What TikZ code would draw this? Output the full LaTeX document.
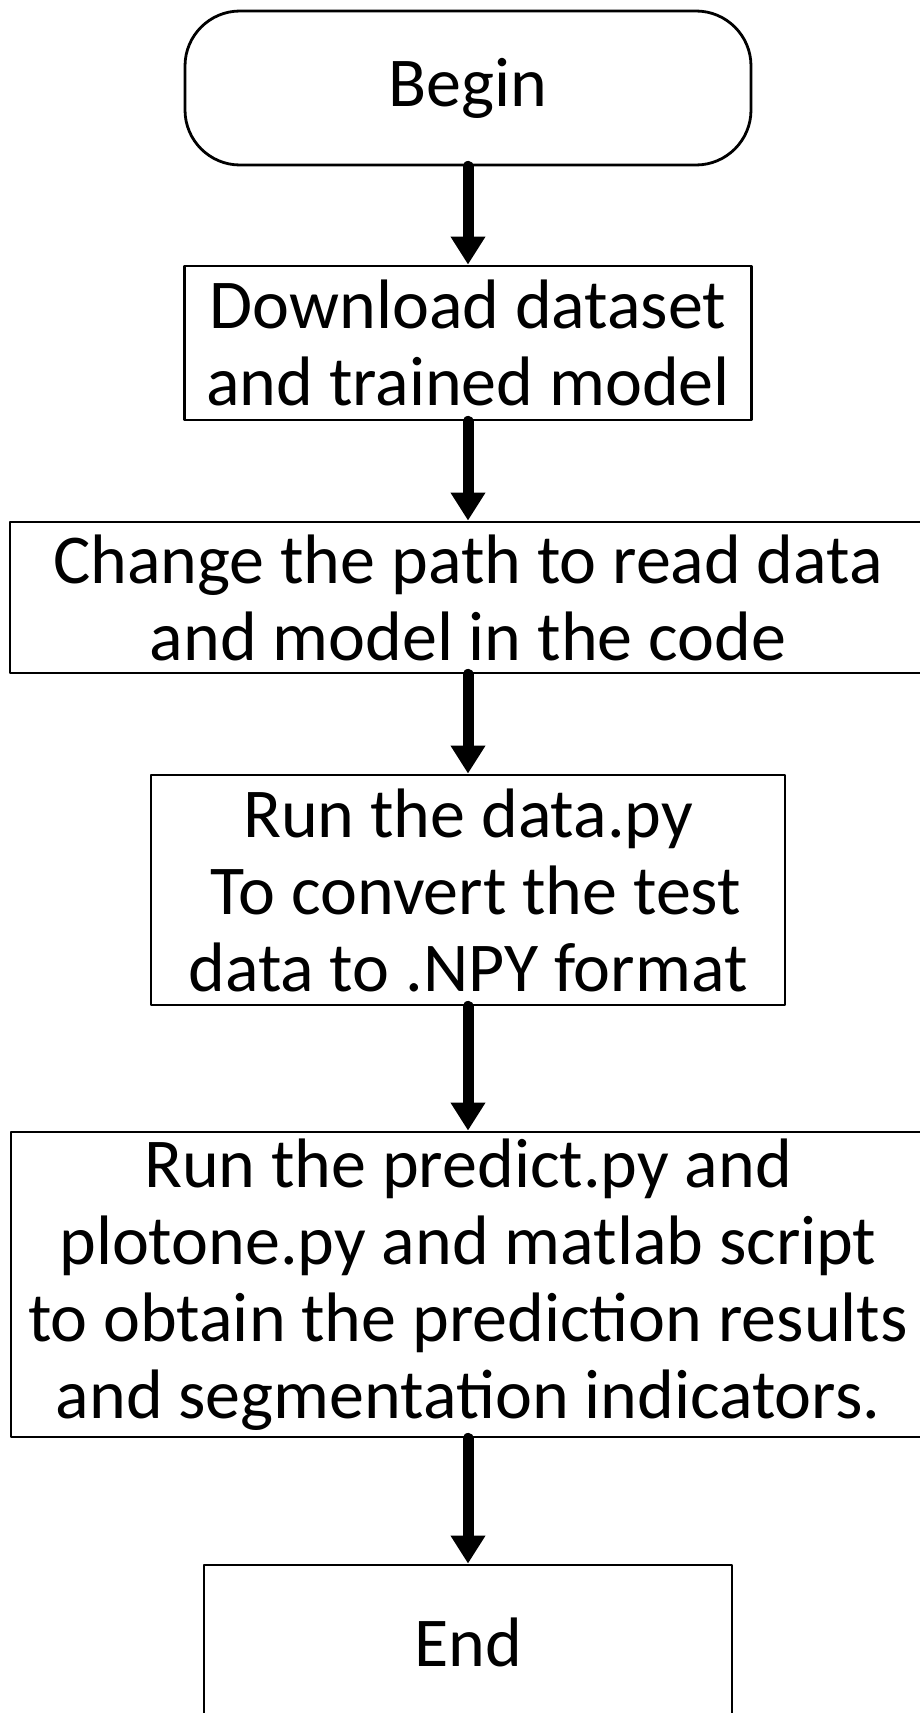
\documentclass[tikz,border=0pt]{standalone}
\usepackage{fontspec}
\setmainfont{Carlito}
\usetikzlibrary{arrows.meta}
\tikzset{
	stepbox/.style={draw,line width=2.8pt,inner sep=0pt,align=center,
		font=\fontsize{70}{77}\selectfont},
}
\begin{document}
\begin{tikzpicture}[x=1pt,y=-1pt,line join=round,
	>={Triangle[width=33pt,length=28pt]}]
	\useasboundingbox (0,0) rectangle (920,1713);
	\node[stepbox,rounded corners=55pt,minimum width=566pt,minimum height=154pt] (begin) at (468,88) {Begin};
	\node[stepbox,minimum width=567pt,minimum height=154pt] (download) at (468,343) {Download dataset\\and trained model};
	\node[stepbox,minimum width=916pt,minimum height=151pt] (change) at (468,597.5) {Change the path to read data\\and model in the code};
	\node[stepbox,minimum width=634pt,minimum height=230pt] (convert) at (468,890) {Run the data.py\\\ To convert the test\\data to .NPY format};
	\node[stepbox,minimum width=914pt,minimum height=305pt] (predict) at (468,1284.5) {Run the predict.py and\\plotone.py and matlab script\\to obtain the prediction results\\and segmentation indicators.};
	\node[stepbox,minimum width=528pt,minimum height=154pt] (end) at (468,1642) {End};
	\draw[->,line width=11pt,line cap=round] (begin)--(download);
	\draw[->,line width=11pt,line cap=round] (download)--(change);
	\draw[->,line width=11pt,line cap=round] (change)--(convert);
	\draw[->,line width=11pt,line cap=round] (convert)--(predict);
	\draw[->,line width=11pt,line cap=round] (predict)--(end);
\end{tikzpicture}
\end{document}
